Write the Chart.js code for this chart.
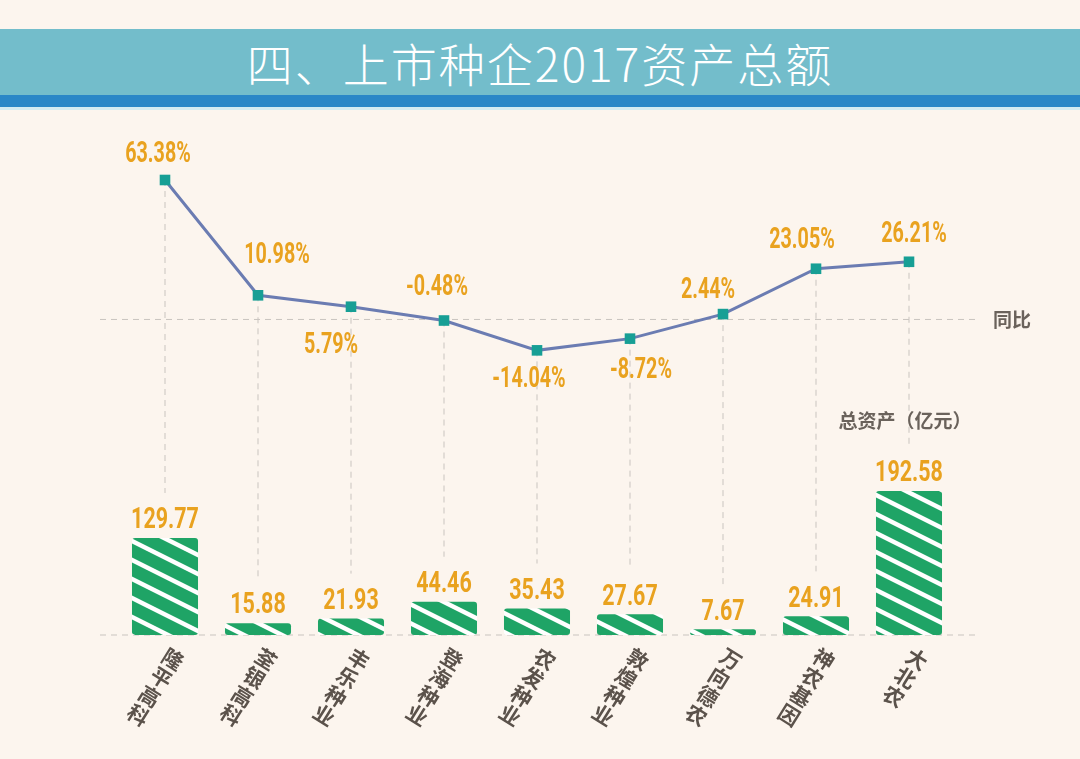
<!DOCTYPE html>
<html>
<head>
<meta charset="utf-8">
<script src="https://cdn.jsdelivr.net/npm/chart.js@4.4.1/dist/chart.umd.min.js"></script>
<style>
  html, body { margin: 0; padding: 0; background: #fcf5ee; }
  #wrap { position: relative; width: 1080px; height: 759px; overflow: hidden; }
  #banner {
    position: absolute; left: 0; top: 29px; width: 1080px; height: 66px;
    background: #73bdcb; color: #fff; text-align: center;
    font: 300 46px 'Noto Sans CJK SC', sans-serif; line-height: 66px; letter-spacing: 2px;
  }
  #strip { position: absolute; left: 0; top: 95px; width: 1080px; height: 12px; background: #2a87c7; }
  #edge { position: absolute; left: 0; top: 107px; width: 1080px; height: 3px; background: #d3ebf2; }
  canvas { position: absolute; left: 0; top: 0; }
</style>
</head>
<body>
<div id="wrap">
  <canvas id="chart" width="1080" height="759"></canvas>
  <div id="banner">四、上市种企2017资产总额</div>
  <div id="strip"></div>
  <div id="edge"></div>
</div>
<script>
// values
const categories = ['隆平高科', '荃银高科', '丰乐种业', '登海种业', '农发种业', '敦煌种业', '万向德农', '神农基因', '大北农'];
const totalAssets = [129.77, 15.88, 21.93, 44.46, 35.43, 27.67, 7.67, 24.91, 192.58]; // 亿元
const yoyGrowth = [63.38, 10.98, 5.79, -0.48, -14.04, -8.72, 2.44, 23.05, 26.21];    // %

// where each growth label sits relative to its point
const growthLabelDx = [-7, 19, -20, -7, -8, 11, -15, -14, 5];
const growthLabelDy = [-25, -40, 39, -33, 29, 32, -23, -28, -27];

const orange = '#e9a21f';
const darkText = '#5b524b';
const dashColor = '#c9c4bf';

function stripes() {
  const c = document.createElement('canvas');
  c.width = 38; c.height = 19;
  const g = c.getContext('2d');
  g.fillStyle = '#1fa466';
  g.fillRect(0, 0, 38, 19);
  g.strokeStyle = '#ffffff';
  g.lineWidth = 4.5;
  [-19, 0, 19].forEach(off => {
    g.beginPath();
    g.moveTo(-2, off - 1);
    g.lineTo(40, off + 20);
    g.stroke();
  });
  return g.createPattern(c, 'repeat');
}

function narrowText(ctx, text, x, y, size, squeeze) {
  ctx.save();
  ctx.translate(x, y);
  ctx.scale(squeeze, 1);
  ctx.font = 'bold ' + size + 'px Roboto, sans-serif';
  ctx.textAlign = 'center';
  ctx.textBaseline = 'middle';
  ctx.fillText(text, 0, 0);
  ctx.restore();
}

function dashed(ctx, x1, y1, x2, y2) {
  ctx.save();
  ctx.strokeStyle = dashColor;
  ctx.lineWidth = 1;
  ctx.setLineDash([6, 5]);
  ctx.beginPath();
  ctx.moveTo(x1, y1);
  ctx.lineTo(x2, y2);
  ctx.stroke();
  ctx.restore();
}

const decorations = {
  id: 'decorations',
  beforeDatasetsDraw(chart) {
    const { ctx } = chart;
    const x = chart.scales.x, yl = chart.scales.yLine, yb = chart.scales.yBar;
    // guide lines
    dashed(ctx, 100, yl.getPixelForValue(0), 980, yl.getPixelForValue(0));
    dashed(ctx, 100, yb.getPixelForValue(0), 980, yb.getPixelForValue(0));
    categories.forEach((c, i) => {
      const px = x.getPixelForValue(i);
      dashed(ctx, px, yl.getPixelForValue(yoyGrowth[i]), px, yb.getPixelForValue(totalAssets[i]) - 45);
    });
  },
  afterDatasetsDraw(chart) {
    const { ctx } = chart;
    const x = chart.scales.x, yl = chart.scales.yLine, yb = chart.scales.yBar;
    ctx.save();
    ctx.fillStyle = orange;
    yoyGrowth.forEach((v, i) => {
      narrowText(ctx, v.toFixed(2) + '%', x.getPixelForValue(i) + growthLabelDx[i],
        yl.getPixelForValue(v) + growthLabelDy[i], 29, 0.68);
    });
    totalAssets.forEach((v, i) => {
      narrowText(ctx, v.toFixed(2), x.getPixelForValue(i), yb.getPixelForValue(v) - 17, 29, 0.74);
    });

    // category names: stacked characters, tilted
    const tilt = 32 * Math.PI / 180;
    ctx.fillStyle = darkText;
    ctx.font = 'bold 21px "Noto Sans CJK SC", sans-serif';
    ctx.textAlign = 'center';
    ctx.textBaseline = 'middle';
    categories.forEach((name, i) => {
      ctx.save();
      ctx.translate(x.getPixelForValue(i) + 8, yb.getPixelForValue(0) + 24);
      ctx.rotate(tilt);
      [...name].forEach((ch, k) => ctx.fillText(ch, 0, k * 22));
      ctx.restore();
    });

    ctx.fillStyle = '#6a625b';
    ctx.font = 'bold 19px "Noto Sans CJK SC", sans-serif';
    ctx.fillText('同比', 1012, yl.getPixelForValue(0));
    ctx.fillText('总资产（亿元）', 905, 421);
    ctx.restore();
  }
};

new Chart(document.getElementById('chart'), {
  data: {
    labels: categories,
    datasets: [
      {
        type: 'line',
        label: '同比',
        data: yoyGrowth,
        yAxisID: 'yLine',
        borderColor: '#6b7cb2',
        borderWidth: 3,
        pointStyle: 'rect',
        pointRadius: 7.5,
        pointBorderWidth: 0,
        pointBackgroundColor: '#179f95',
        tension: 0,
        order: 0
      },
      {
        type: 'bar',
        label: '总资产（亿元）',
        data: totalAssets,
        yAxisID: 'yBar',
        backgroundColor: stripes(),
        borderWidth: 0,
        borderRadius: 3,
        borderSkipped: false,
        categoryPercentage: 1,
        barPercentage: 0.71,
        order: 1
      }
    ]
  },
  options: {
    responsive: false,
    animation: false,
    devicePixelRatio: 1,
    layout: { padding: { left: 118.5, right: 124.5, top: 130, bottom: 124 } },
    plugins: { legend: { display: false }, tooltip: { enabled: false } },
    scales: {
      x: { display: false, offset: true, grid: { display: false } },
      yLine: { display: false, min: -143.4, max: 86.1 },
      yBar: { display: false, min: 0, max: 675.4 }
    }
  },
  plugins: [decorations]
});
</script>
</body>
</html>
